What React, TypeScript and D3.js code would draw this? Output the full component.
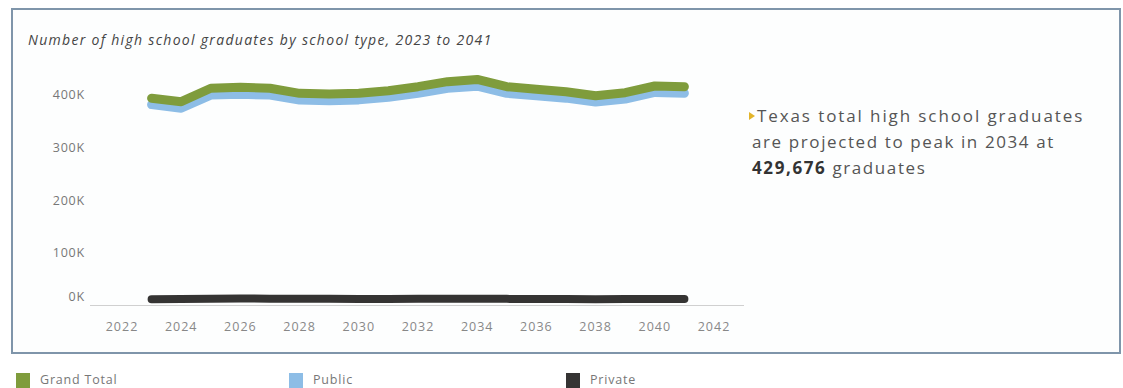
import React from "react";
import * as d3 from "d3";

const years = [2023, 2024, 2025, 2026, 2027, 2028, 2029, 2030, 2031, 2032, 2033, 2034, 2035, 2036, 2037, 2038, 2039, 2040, 2041];
const grandTotal = [393900, 387500, 413000, 414800, 413000, 403400, 402000, 403400, 408400, 416000, 425500, 429676, 416000, 411000, 406500, 398900, 404600, 417300, 416000];
const privateVals = [12000, 12500, 13000, 13200, 13000, 12800, 12600, 12500, 12500, 12600, 12700, 12800, 12600, 12400, 12300, 12100, 12200, 12300, 12300];
const publicVals = grandTotal.map((t, i) => t - privateVals[i]);
const xTicks = [2022, 2024, 2026, 2028, 2030, 2032, 2034, 2036, 2038, 2040, 2042];
const yTicks = [0, 100000, 200000, 300000, 400000];
const legendItems = ["Grand Total", "Public", "Private"];

const W = 1123;
const H = 388;
const FONT = "'Open Sans', 'Noto Sans', sans-serif";

export default function App() {
  const x = d3.scaleLinear().domain([2022, 2042]).range([122, 714]);
  const y = d3.scaleLinear().domain([0, 400000]).range([305.5, 95.1]);
  const mk = (vals: number[]) =>
    d3
      .line<number>()
      .x((_, i) => x(years[i]))
      .y((v) => y(v))
      .curve(d3.curveLinear)(vals) as string;

  const legendColors = ["#7f9c3c", "#8dbde6", "#353433"];
  const legendX = [16, 289, 566];

  return (
    <svg
      width={W}
      height={H}
      style={{ position: "absolute", left: 0, top: 0, background: "#ffffff" }}
      fontFamily={FONT}
    >
      <rect x={12} y={9} width={1108} height={344} fill="#fdfefe" stroke="#7f95aa" strokeWidth={2} />
      <text x={28} y={45} fontSize={14} fontStyle="italic" fill="#444" letterSpacing={1.3}>
        Number of high school graduates by school type, 2023 to 2041
      </text>

      {/* baseline */}
      <line x1={90} x2={744} y1={305.5} y2={305.5} stroke="#d0d0d0" strokeWidth={1} />

      {yTicks.map((t) => (
        <text
          key={t}
          x={85}
          y={t === 0 ? y(t) - 9 : y(t)}
          dy="0.35em"
          textAnchor="end"
          fontSize={12.5}
          letterSpacing={0.8}
          fill="#777"
        >
          {t / 1000 + "K"}
        </text>
      ))}
      {xTicks.map((t) => (
        <text key={t} x={x(t)} y={327} dy="0.35em" textAnchor="middle" fontSize={12.5} letterSpacing={1} fill="#888">
          {t}
        </text>
      ))}

      <path d={mk(publicVals)} fill="none" stroke="#8dbde6" strokeWidth={9} strokeLinecap="round" strokeLinejoin="round" />
      <path d={mk(grandTotal)} fill="none" stroke="#7f9c3c" strokeWidth={9} strokeLinecap="round" strokeLinejoin="round" />
      <path d={mk(privateVals)} fill="none" stroke="#353433" strokeWidth={8} strokeLinecap="round" strokeLinejoin="round" />

      {/* annotation */}
      <path d="M749,112 L755,116 L749,120 Z" fill="#e2b42a" />
      <text x={757} y={122} fontSize={17} fill="#555" letterSpacing={1.9}>
        Texas total high school graduates
      </text>
      <text x={752} y={148} fontSize={17} fill="#555" letterSpacing={1.6}>
        are projected to peak in 2034 at
      </text>
      <text x={752} y={174} fontSize={17} fill="#555" letterSpacing={1.6}>
        <tspan fontWeight="bold" fill="#333">429,676</tspan> graduates
      </text>

      {legendItems.map((name, i) => (
        <g key={name}>
          <rect x={legendX[i]} y={373} width={14} height={15} fill={legendColors[i]} />
          <text x={legendX[i] + 24} y={380} dy="0.35em" fontSize={12.5} letterSpacing={0.8} fill="#777">
            {name}
          </text>
        </g>
      ))}
    </svg>
  );
}
